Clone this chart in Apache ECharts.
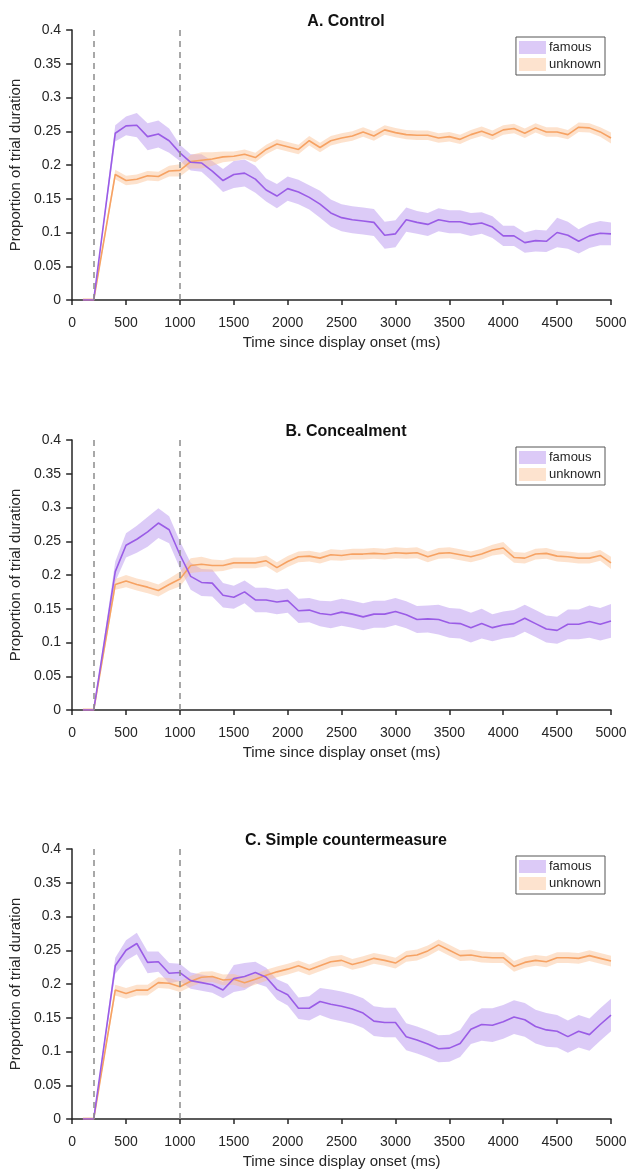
<!DOCTYPE html>
<html lang="en">
<head>
    <meta charset="UTF-8">
    <title>Proportion of trial duration</title>
    <script type="text/javascript" src="https://cdn.jsdelivr.net/npm/echarts@6/dist/echarts.min.js"></script>
    <style>
        body{margin:0;background:#fff;}
        #main{width:630px;height:1172px;}
    </style>
</head>
<body>
<div id="main"></div>
<script type="text/javascript">
    // time bins (ms)
    var times = [100,200,400,500,600,700,800,900,1000,
        1100,1200,1300,1400,1500,1600,1700,1800,1900,2000,
        2100,2200,2300,2400,2500,2600,2700,2800,2900,3000,
        3100,3200,3300,3400,3500,3600,3700,3800,3900,4000,
        4100,4200,4300,4400,4500,4600,4700,4800,4900,5000];

    var titles = ['A. Control','B. Concealment','C. Simple countermeasure'];
    var markers = [200,1000];

    // A. Control
    var aFamous = [0,0,0.247,0.258,0.259,0.242,0.246,0.236,0.218,
        0.204,0.203,0.191,0.177,0.186,0.188,0.179,0.163,0.154,0.165,
        0.160,0.152,0.142,0.129,0.122,0.119,0.117,0.115,0.096,0.098,
        0.119,0.115,0.112,0.119,0.116,0.116,0.112,0.114,0.108,0.095,
        0.095,0.085,0.088,0.087,0.100,0.096,0.087,0.095,0.099,0.098];
    var aFamousErr = [0,0,0.012,0.014,0.018,0.02,0.02,0.018,0.012,
        0.012,0.013,0.015,0.017,0.02,0.02,0.02,0.017,0.018,0.018,
        0.018,0.018,0.02,0.02,0.02,0.02,0.02,0.02,0.02,0.02,
        0.018,0.017,0.017,0.017,0.017,0.017,0.017,0.016,0.016,0.015,
        0.015,0.015,0.016,0.016,0.022,0.02,0.018,0.018,0.018,0.017];
    var aUnknown = [0,0,0.186,0.177,0.179,0.184,0.183,0.191,0.192,
        0.205,0.207,0.209,0.212,0.213,0.216,0.211,0.223,0.231,0.227,
        0.223,0.236,0.226,0.236,0.240,0.243,0.249,0.243,0.252,0.248,
        0.245,0.244,0.244,0.240,0.242,0.238,0.245,0.250,0.244,0.252,
        0.254,0.247,0.255,0.249,0.249,0.245,0.256,0.255,0.249,0.240];
    var aUnknownErr = [0.003,0.003,0.007,0.007,0.007,0.007,0.007,0.008,0.009,
        0.01,0.012,0.01,0.008,0.007,0.007,0.007,0.007,0.007,0.007,
        0.007,0.007,0.007,0.007,0.007,0.007,0.007,0.007,0.007,0.007,
        0.007,0.007,0.007,0.007,0.007,0.007,0.007,0.007,0.007,0.007,
        0.007,0.007,0.007,0.007,0.007,0.007,0.007,0.007,0.007,0.008];

    // B. Concealment
    var bFamous = [0,0,0.205,0.244,0.253,0.264,0.277,0.267,0.230,
        0.198,0.189,0.188,0.170,0.167,0.175,0.163,0.163,0.160,0.162,
        0.147,0.148,0.143,0.141,0.145,0.142,0.138,0.142,0.142,0.146,
        0.141,0.134,0.135,0.134,0.129,0.128,0.122,0.128,0.122,0.126,
        0.128,0.136,0.128,0.120,0.118,0.127,0.127,0.131,0.127,0.132];
    var bFamousErr = [0,0,0.015,0.018,0.02,0.022,0.022,0.02,0.02,
        0.02,0.02,0.02,0.018,0.017,0.017,0.018,0.018,0.018,0.018,
        0.018,0.018,0.019,0.02,0.02,0.02,0.02,0.02,0.02,0.02,
        0.02,0.02,0.02,0.022,0.022,0.022,0.022,0.022,0.02,0.02,
        0.02,0.02,0.02,0.02,0.02,0.022,0.022,0.024,0.024,0.025];
    var bUnknown = [0,0,0.186,0.191,0.186,0.182,0.177,0.186,0.194,
        0.214,0.216,0.214,0.214,0.218,0.218,0.218,0.221,0.211,0.220,
        0.227,0.228,0.225,0.230,0.229,0.231,0.231,0.232,0.231,0.233,
        0.232,0.233,0.227,0.232,0.233,0.230,0.227,0.231,0.237,0.240,
        0.226,0.225,0.231,0.232,0.228,0.227,0.225,0.225,0.229,0.218];
    var bUnknownErr = [0.003,0.003,0.008,0.009,0.009,0.009,0.009,0.009,0.011,
        0.011,0.011,0.009,0.008,0.008,0.008,0.008,0.008,0.008,0.008,
        0.008,0.008,0.008,0.008,0.008,0.008,0.008,0.008,0.008,0.008,
        0.008,0.008,0.008,0.008,0.008,0.008,0.008,0.008,0.008,0.009,
        0.008,0.008,0.008,0.008,0.008,0.008,0.008,0.008,0.008,0.009];

    // C. Simple countermeasure
    var cFamous = [0,0,0.227,0.250,0.260,0.232,0.233,0.216,0.217,
        0.205,0.202,0.199,0.191,0.208,0.211,0.217,0.210,0.192,0.184,
        0.164,0.164,0.174,0.170,0.167,0.163,0.157,0.145,0.143,0.143,
        0.122,0.117,0.111,0.104,0.105,0.112,0.133,0.140,0.139,0.144,
        0.151,0.147,0.137,0.132,0.130,0.122,0.130,0.125,0.140,0.154];
    var cFamousErr = [0,0,0.012,0.015,0.016,0.016,0.015,0.015,0.013,
        0.012,0.012,0.012,0.012,0.02,0.02,0.016,0.014,0.015,0.016,
        0.016,0.018,0.02,0.022,0.022,0.022,0.022,0.022,0.022,0.022,
        0.02,0.02,0.02,0.02,0.02,0.02,0.022,0.024,0.025,0.025,
        0.025,0.025,0.025,0.025,0.024,0.024,0.024,0.024,0.024,0.024];
    var cUnknown = [0,0,0.191,0.186,0.191,0.191,0.202,0.201,0.196,
        0.204,0.210,0.211,0.206,0.207,0.202,0.207,0.213,0.218,0.222,
        0.227,0.221,0.227,0.233,0.235,0.229,0.233,0.238,0.235,0.231,
        0.241,0.243,0.249,0.258,0.250,0.242,0.243,0.240,0.239,0.239,
        0.226,0.232,0.235,0.233,0.239,0.239,0.238,0.242,0.238,0.234];
    var cUnknownErr = [0.003,0.003,0.008,0.008,0.008,0.008,0.008,0.008,0.008,
        0.008,0.008,0.008,0.008,0.008,0.008,0.008,0.008,0.008,0.008,
        0.008,0.008,0.008,0.008,0.008,0.008,0.008,0.008,0.008,0.008,
        0.008,0.008,0.008,0.008,0.008,0.008,0.008,0.008,0.008,0.008,
        0.008,0.008,0.008,0.008,0.008,0.008,0.008,0.008,0.008,0.008];

    var panels = [
        [aFamous,aFamousErr,aUnknown,aUnknownErr],
        [bFamous,bFamousErr,bUnknown,bUnknownErr],
        [cFamous,cFamousErr,cUnknown,cUnknownErr]
    ];

    var gridTops = [30,440,849];
    var gridH = 270;

    var purpleLine = '#9a5ce6', purpleBand = 'rgba(178,140,238,0.45)', purpleKey = '#dccaf7';
    var orangeLine = '#f6a263', orangeBand = 'rgba(251,190,145,0.45)', orangeKey = '#fde3cf';
    var ink = '#262626';

    function meanOf(m){
        return times.map(function(t,i){ return [t, m[i]]; });
    }

    // shaded error band drawn as one polygon through the axis scales
    function bandSeries(k, name, m, e, fill, key){
        return {
            name: name, type:'custom', xAxisIndex:k, yAxisIndex:k,
            clip:true, silent:true, z:2,
            itemStyle:{color:key},
            data: times.map(function(t,i){ return [t, m[i]-e[i], m[i]+e[i]]; }),
            encode:{x:0, y:[1,2]},
            renderItem: function(params, api){
                if (params.dataIndex !== 0) return null;
                var pts = [];
                for (var i = 0; i < times.length; i++) {
                    pts.push(api.coord([times[i], m[i]+e[i]]));
                }
                for (var j = times.length-1; j >= 0; j--) {
                    pts.push(api.coord([times[j], m[j]-e[j]]));
                }
                return {type:'polygon', shape:{points:pts}, style:{fill:fill}};
            }
        };
    }

    var series = [];
    var grids = [], xAxes = [], yAxes = [], titleList = [], legends = [];

    for (var k = 0; k < 3; k++) {
        var p = panels[k];
        grids.push({left:71, right:19, top:gridTops[k], height:gridH});

        xAxes.push({
            type:'value', gridIndex:k, min:0, max:5000, interval:500,
            name:'Time since display onset (ms)', nameLocation:'middle', nameGap:35,
            nameTextStyle:{fontSize:15, color:ink, fontFamily:'Liberation Sans'},
            axisLine:{onZero:false, lineStyle:{color:ink, width:1.5}},
            axisTick:{length:5, lineStyle:{color:ink, width:1.5}},
            axisLabel:{fontSize:14, color:ink, margin:16, fontFamily:'Liberation Sans',
                formatter:function(v){ return String(v); }},
            splitLine:{show:false}
        });
        yAxes.push({
            type:'value', gridIndex:k, min:0, max:0.4, interval:0.05,
            name:'Proportion of trial duration', nameLocation:'middle', nameGap:48,
            nameTextStyle:{fontSize:15, color:ink, fontFamily:'Liberation Sans'},
            axisLine:{show:true, lineStyle:{color:ink, width:1.5}},
            axisTick:{show:true, length:6, lineStyle:{color:ink, width:1.5}},
            axisLabel:{fontSize:14, color:ink, margin:11, fontFamily:'Liberation Sans'},
            splitLine:{show:false}
        });

        titleList.push({
            text: titles[k], left:341, top: gridTops[k] - 21, textAlign:'center',
            textStyle:{fontSize:16, fontWeight:'bold', color:'#111', fontFamily:'Liberation Sans'}
        });

        legends.push({
            data:[
                {name:'famous', itemStyle:{color:purpleKey}},
                {name:'unknown', itemStyle:{color:orangeKey}}
            ],
            orient:'vertical', right:25, top: gridTops[k] + 7,
            icon:'rect', itemWidth:27, itemHeight:13, itemGap:4,
            padding:[4,4,4,3], borderColor:'#555', borderWidth:1,
            selectedMode:false,
            textStyle:{fontSize:13, color:ink, fontFamily:'Liberation Sans', padding:[0,0,0,-2]}
        });

        series.push(bandSeries(k, 'famous', p[0], p[1], purpleBand, purpleKey));
        series.push(bandSeries(k, 'unknown', p[2], p[3], orangeBand, orangeKey));

        series.push({
            name:'unknown mean', type:'line', xAxisIndex:k, yAxisIndex:k,
            data: meanOf(p[2]), showSymbol:false, symbol:'none',
            lineStyle:{color:orangeLine, width:1.6}, z:3
        });
        series.push({
            name:'famous mean', type:'line', xAxisIndex:k, yAxisIndex:k,
            data: meanOf(p[0]), showSymbol:false, symbol:'none',
            lineStyle:{color:purpleLine, width:1.6}, z:4,
            markLine:{
                silent:true, symbol:['none','none'], label:{show:false},
                lineStyle:{color:'#8c8c8c', type:[6,5], width:1.5},
                data: markers.map(function(x){ return {xAxis:x}; })
            }
        });
    }

    var myChart = echarts.init(document.getElementById('main'));
    var option = {
        animation:false,
        backgroundColor:'#fff',
        textStyle:{fontFamily:'Liberation Sans'},
        title: titleList,
        legend: legends,
        grid: grids,
        xAxis: xAxes,
        yAxis: yAxes,
        series: series
    };
    myChart.setOption(option);
</script>
</body>
</html>
